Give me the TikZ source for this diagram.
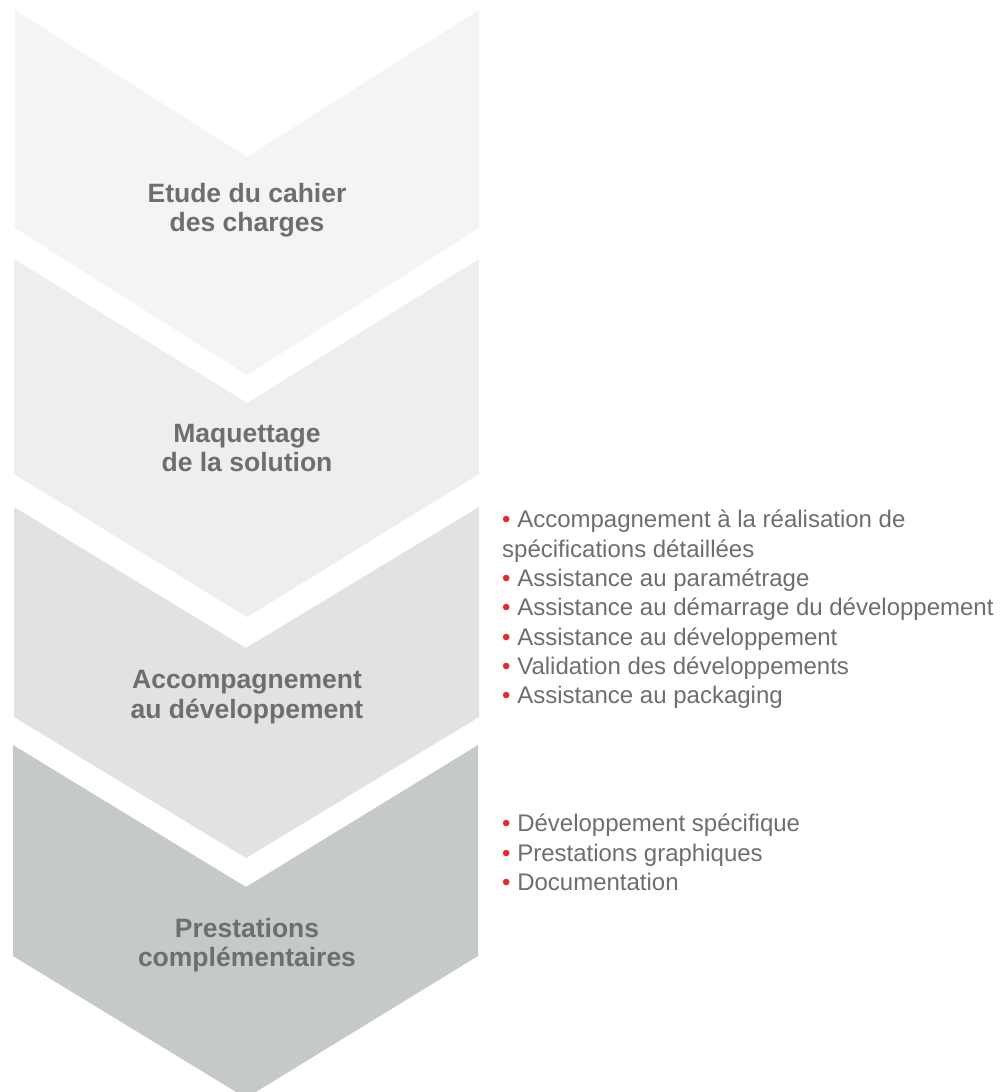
\documentclass[tikz,border=0pt]{standalone}
\usepackage{fontspec}
\setmainfont{Liberation Sans}
\definecolor{chevA}{HTML}{F3F4F5}
\definecolor{chevB}{HTML}{EDEEEE}
\definecolor{chevC}{HTML}{E1E2E3}
\definecolor{chevD}{HTML}{C6C9CA}
\definecolor{txtgray}{HTML}{6D6E70}
\definecolor{bulred}{HTML}{E42A2E}
\newcommand\rbul{{\color{bulred}•}\ }
\tikzset{
  steplabel/.style={align=center, inner sep=0pt, text=txtgray,
    font=\fontsize{26.5}{29.5}\selectfont\bfseries},
  listtext/.style={align=left, inner sep=0pt, text=txtgray, anchor=west,
    font=\fontsize{24}{29.3}\selectfont}
}
\begin{document}
\begin{tikzpicture}[x=1pt,y=-1pt]
\useasboundingbox (0,0) rectangle (1001,1092);
\fill[white] (0,0) rectangle (1001,1092);
\clip (0,0) rectangle (1001,1092);
% chevrons
\fill[chevA] (15,10) -- (247,157) -- (479,10) -- (479,228) -- (247,375) -- (15,228) -- cycle;
\fill[chevB] (14,259) -- (247,403) -- (479,259) -- (479,474) -- (247,617) -- (14,474) -- cycle;
\fill[chevC] (14,507) -- (246,648) -- (479,507) -- (479,717) -- (246,858) -- (14,717) -- cycle;
\fill[chevD] (13,745) -- (246,887) -- (478,745) -- (478,956) -- (246,1098) -- (13,956) -- cycle;
% step labels
\node[steplabel] (s1) at (247,210) {Etude du cahier\\des charges};
\node[steplabel] (s2) at (247,448) {Maquettage\\de la solution};
\node[steplabel] (s3) at (247,697) {Accompagnement\\au développement};
\node[steplabel] (s4) at (247,945) {Prestations\\complémentaires};
% lists
\node[listtext] (l1) at (502,609.5) {\rbul Accompagnement à la réalisation de\\spécifications détaillées\\\rbul Assistance au paramétrage\\\rbul Assistance au démarrage du développement\\\rbul Assistance au développement\\\rbul Validation des développements\\\rbul Assistance au packaging};
\node[listtext] (l2) at (502,852.5) {\rbul Développement spécifique\\\rbul Prestations graphiques\\\rbul Documentation};
\end{tikzpicture}
\end{document}
